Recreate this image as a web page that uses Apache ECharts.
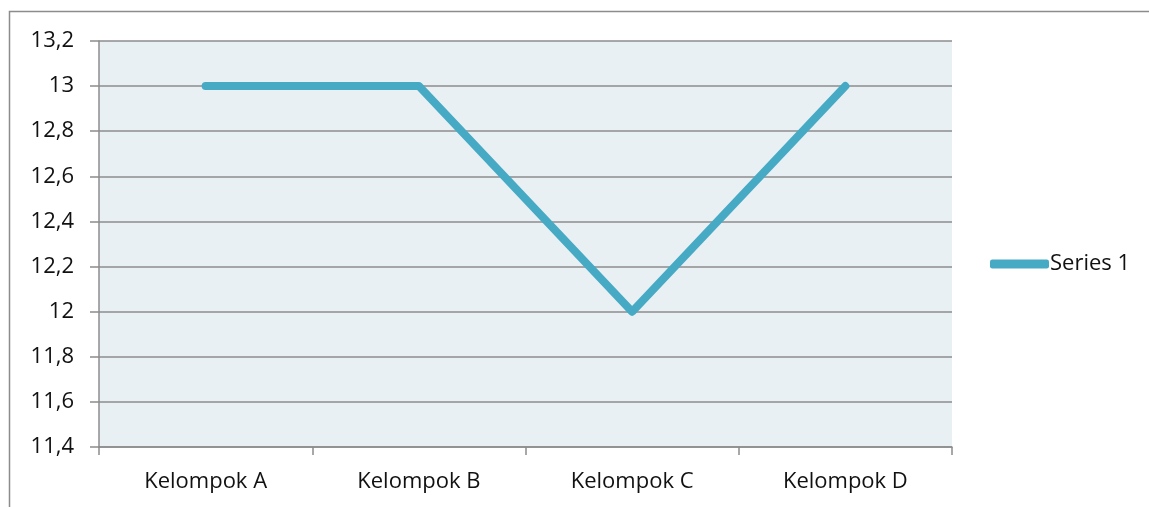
<!DOCTYPE html>
<html><head><meta charset="utf-8">
<script src="https://cdn.jsdelivr.net/npm/echarts@6/dist/echarts.min.js"></script>
<style>html,body{margin:0;padding:0;background:#fff}#c{width:1149px;height:507px}</style>
</head><body><div id="c"></div>
<script>
const categories = ['Kelompok A', 'Kelompok B', 'Kelompok C', 'Kelompok D'];
const series1 = [13, 13, 12, 13];
const seriesName = 'Series 1';
const yMin = 11.4, yMax = 13.2, yStep = 0.2;

const FONT = 'Open Sans';
const chart = echarts.init(document.getElementById('c'));
chart.setOption({
  animation: false,
  textStyle: { fontFamily: FONT },
  graphic: [{ type: 'rect', silent: true, shape: { x: 9.5, y: 11.5, width: 1300, height: 700 },
    style: { fill: 'none', stroke: '#8c8c8c', lineWidth: 1.5 } }],
  grid: { left: 99, right: 197, top: 41, bottom: 60, show: true, backgroundColor: '#E8F0F4', borderWidth: 0 },
  legend: {
    data: [seriesName], left: 985, top: 248, icon: 'roundRect', itemWidth: 59, itemHeight: 9, itemGap: 0,
    textStyle: { fontSize: 22, color: '#111', fontFamily: FONT, padding: [0, 0, 0, -4] },
    itemStyle: { color: '#47AAC5' }
  },
  xAxis: {
    type: 'category', data: categories, boundaryGap: true,
    axisLine: { lineStyle: { color: '#8c8c8c', width: 1.5 } },
    axisTick: { show: true, length: 8, lineStyle: { color: '#8c8c8c', width: 1.5 } },
    axisLabel: { fontSize: 22, color: '#111', margin: 24, fontFamily: FONT },
    splitLine: { show: false }
  },
  yAxis: {
    type: 'value', min: yMin, max: yMax, interval: yStep,
    axisLine: { show: true, lineStyle: { color: '#8c8c8c', width: 1.5 } },
    axisTick: { show: true, length: 9, lineStyle: { color: '#8c8c8c', width: 1.5 } },
    axisLabel: { fontSize: 22, color: '#111', margin: 25, fontFamily: FONT,
      formatter: v => String(Math.round(v * 10) / 10).replace('.', ',') },
    splitLine: { show: true, lineStyle: { color: '#8c8c8c', width: 1.5 } }
  },
  series: [{
    name: seriesName, type: 'line', data: series1, symbol: 'none',
    lineStyle: { color: '#47AAC5', width: 8, cap: 'round', join: 'round' },
    itemStyle: { color: '#47AAC5' }
  }]
});
</script></body></html>
